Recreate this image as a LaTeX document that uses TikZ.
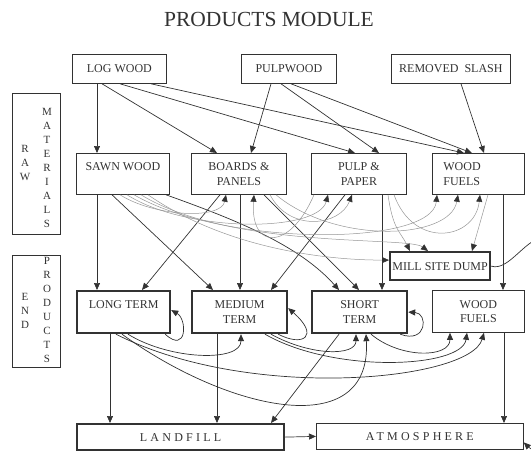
\documentclass[tikz,border=0pt]{standalone}
\usepackage{fontspec}
\setmainfont{Liberation Serif}
\usetikzlibrary{arrows.meta}
\definecolor{inkgray}{RGB}{50,50,50}
\definecolor{wastegray}{RGB}{150,150,150}

\begin{document}
\begin{tikzpicture}[x=1pt, y=-1pt, >={Triangle[length=7pt,width=6pt]},
    box/.style={draw=inkgray, line width=0.8pt, anchor=north west, inner sep=2pt,
      align=center, text=inkgray, font=\fontsize{12}{14.5}\selectfont},
    heavy/.style={box, line width=2.2pt},
    flow/.style={->, draw=inkgray, line width=0.7pt},
    waste/.style={-{Triangle[length=7pt,width=6pt,color=inkgray]}, draw=wastegray, line width=0.5pt},
    vlet/.style={align=center, text=inkgray, inner sep=0pt, font=\fontsize{11}{14}\selectfont}]
  \useasboundingbox (0,0) rectangle (531,453);
  % Title
  \node[text=inkgray, font=\fontsize{21.5}{24}\selectfont] (title) at (269,19) {PRODUCTS MODULE};
  % Side labels
  \node[box, minimum width=48pt, minimum height=141pt] (rawbox) at (12,93) {};
  \node[vlet] (rawword) at (25,163) {R\\A\\W};
  \node[vlet] (matword) at (47,168) {M\\A\\T\\E\\R\\I\\A\\L\\S};
  \node[box, minimum width=48pt, minimum height=112pt] (endbox) at (12,255) {};
  \node[vlet] (endword) at (25,311) {E\\N\\D};
  \node[vlet] (prodword) at (47,310) {P\\R\\O\\D\\U\\C\\T\\S};
  % Sources
  \node[box, minimum width=94pt, minimum height=29pt] (logwood) at (72,54) {LOG WOOD};
  \node[box, minimum width=95pt, minimum height=29pt] (pulpwood) at (241,54) {PULPWOOD};
  \node[box, minimum width=119pt, minimum height=29pt] (slash) at (391,54) {REMOVED~~SLASH};
  % Raw materials
  \node[box, minimum width=93pt, minimum height=41pt] (sawn) at (76,153) {SAWN WOOD\\~};
  \node[box, minimum width=95pt, minimum height=41pt] (boards) at (191,153) {BOARDS \&\\PANELS};
  \node[box, minimum width=95pt, minimum height=41pt] (pulp) at (311,153) {PULP \&\\PAPER};
  \node[box, minimum width=92pt, minimum height=41pt, text width=70pt, align=left, inner xsep=10pt] (fuelraw) at (432,153) {WOOD\\FUELS};
  \node[heavy, minimum width=100pt, minimum height=28pt] (dump) at (389,251) {MILL SITE DUMP};
  % End products
  \node[heavy, minimum width=93pt, minimum height=42pt] (long) at (76,290) {LONG TERM\\~};
  \node[heavy, minimum width=95pt, minimum height=42pt] (medium) at (191,290) {MEDIUM\\TERM};
  \node[heavy, minimum width=95pt, minimum height=42pt] (short) at (311,290) {SHORT\\TERM};
  \node[box, minimum width=92pt, minimum height=42pt] (fuelend) at (432,290) {WOOD\\FUELS};
  \node[heavy, minimum width=207pt, minimum height=26pt,
        font=\fontsize{12}{14.5}\selectfont\addfontfeature{LetterSpace=27}] (landfill) at (76,423) {LANDFILL};
  \node[box, minimum width=207pt, minimum height=26pt,
        font=\fontsize{12}{14.5}\selectfont\addfontfeature{LetterSpace=27}] (atmos) at (316,423) {ATMOSPHERE};
  \coordinate (offpage) at (548,236);

  % Sources to raw materials
  \draw[flow] ([xshift=25pt]logwood.south west) -- ([xshift=21pt]sawn.north west);
  \draw[flow] ([xshift=30pt]logwood.south west) -- ([xshift=26pt]boards.north west);
  \draw[flow] ([xshift=48pt]logwood.south west) -- ([xshift=44pt]pulp.north west);
  \draw[flow] ([xshift=79pt]logwood.south west) -- ([xshift=32pt]fuelraw.north west);
  \draw[flow] ([xshift=30pt]pulpwood.south west) -- ([xshift=60pt]boards.north west);
  \draw[flow] ([xshift=40pt]pulpwood.south west) -- ([xshift=68pt]pulp.north west);
  \draw[flow] ([xshift=50pt]pulpwood.south west) -- ([xshift=40pt]fuelraw.north west);
  \draw[flow] ([xshift=70pt]slash.south west) -- ([xshift=52pt]fuelraw.north west);

  % Raw materials to end products
  \draw[flow] ([xshift=21pt]sawn.south west) -- ([xshift=21pt]long.north west);
  \draw[flow] ([xshift=36pt]sawn.south west) -- ([xshift=22pt]medium.north west);
  \draw[flow] ([xshift=90pt]sawn.south west) .. controls +(70,25) and +(-40,-45) .. ([xshift=28pt]short.north west);
  \draw[flow] ([xshift=29pt]boards.south west) -- ([xshift=66pt]long.north west);
  \draw[flow] ([xshift=49pt]boards.south west) -- ([xshift=49pt]medium.north west);
  \draw[flow] ([xshift=73pt]boards.south west) -- ([xshift=48pt]short.north west);
  \draw[flow] ([xshift=34pt]pulp.south west) -- ([xshift=80pt]medium.north west);
  \draw[flow] ([xshift=71pt]pulp.south west) -- ([xshift=71pt]short.north west);
  \draw[flow] ([xshift=71pt]fuelraw.south west) -- ([xshift=71pt]fuelend.north west);

  % Residues between raw materials and to the dump
  \draw[waste] ([xshift=44pt]sawn.south west) .. controls +(35,22) and +(-5,25) .. ([xshift=35pt]boards.south west);
  \draw[waste] ([xshift=51pt]sawn.south west) .. controls +(60,38) and +(-10,38) .. ([xshift=17pt]pulp.south west);
  \draw[waste] ([xshift=58pt]sawn.south west) .. controls +(90,52) and +(-5,52) .. ([xshift=5pt]fuelraw.south west);
  \draw[waste] ([xshift=65pt]sawn.south west) .. controls +(90,55) and +(-20,-15) .. ([xshift=39pt]dump.north west);
  \draw[waste] ([xshift=72pt]sawn.south west) .. controls +(80,55) and +(-60,0) .. ([yshift=6pt]dump.west);
  \draw[waste] ([xshift=79pt]boards.south west) .. controls +(20,38) and +(-12,31) .. ([xshift=41pt]pulp.south west);
  \draw[waste] ([xshift=85pt]boards.south west) .. controls +(60,50) and +(-8,45) .. ([xshift=26pt]fuelraw.south west);
  \draw[waste] ([xshift=3pt]pulp.south west) .. controls +(-24,56) and +(-4,56) .. ([xshift=63pt]boards.south west);
  \draw[waste] ([xshift=77pt]pulp.south west) .. controls +(5,35) and +(-10,-20) .. ([xshift=21pt]dump.north west);
  \draw[waste] ([xshift=83pt]pulp.south west) .. controls +(20,55) and +(-5,45) .. ([xshift=48pt]fuelraw.south west);
  \draw[waste] ([xshift=56pt]fuelraw.south west) -- ([xshift=83pt]dump.north west);

  % End products recycling
  \draw[flow] ([xshift=-6pt]long.south east) .. controls +(22,20) and +(16,9) .. ([yshift=2pt]long.east);
  \draw[flow] ([xshift=52pt]long.south west) .. controls +(42,26) and +(0,28) .. ([xshift=50pt]medium.south west);
  \draw[flow] ([xshift=46pt]long.south west) .. controls +(108,78) and +(6,108) .. ([xshift=55pt]short.south west);
  \draw[flow] ([xshift=40pt]long.south west) .. controls +(134,68) and +(-14,48) .. ([xshift=52pt]fuelend.south west);
  \draw[flow] ([xshift=-10pt]medium.south east) .. controls +(25,13) and +(32,28) .. ([yshift=4pt]medium.east);
  \draw[flow] ([xshift=80pt]medium.south west) .. controls +(40,22) and +(0,22) .. ([xshift=45pt]short.south west);
  \draw[flow] ([xshift=74pt]medium.south west) .. controls +(70,40) and +(-5,35) .. ([xshift=35pt]fuelend.south west);
  \draw[flow] ([xshift=-8pt]short.south east) .. controls +(27,10) and +(20,1) .. (short.east);
  \draw[flow] ([xshift=60pt]short.south west) .. controls +(30,25) and +(0,25) .. ([xshift=18pt]fuelend.south west);

  % To landfill and atmosphere
  \draw[flow] ([xshift=34pt]long.south west) -- ([xshift=34pt]landfill.north west);
  \draw[flow] ([xshift=26pt]medium.south west) -- ([xshift=141pt]landfill.north west);
  \draw[flow] ([xshift=28pt]short.south west) -- ([xshift=195pt]landfill.north west);
  \draw[flow] ([xshift=72pt]fuelend.south west) -- ([xshift=188pt]atmos.north west);
  \draw[flow] (landfill.east) -- (atmos.west);
  \draw[flow] (dump.east) .. controls +(18,6) and +(-22,0) .. (offpage)
    .. controls +(45,0) and +(28,28) .. ([yshift=-6pt]atmos.east);
\end{tikzpicture}
\end{document}
